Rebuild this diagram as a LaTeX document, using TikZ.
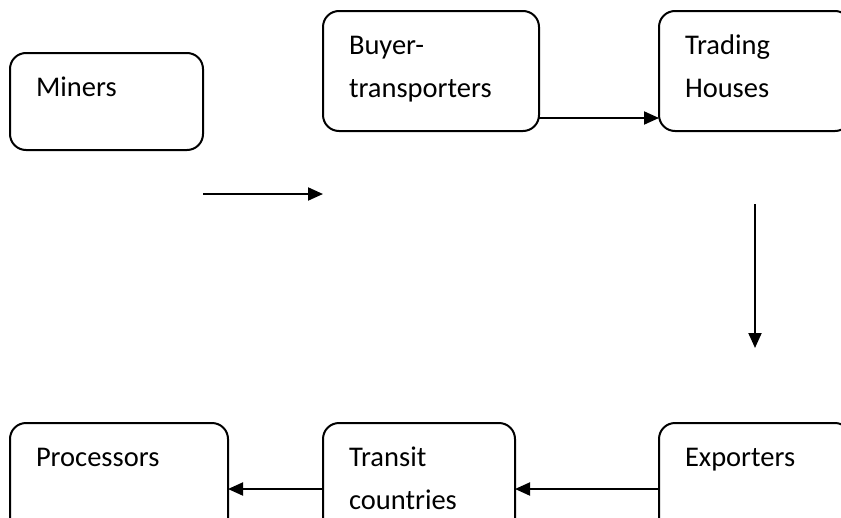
\documentclass[tikz,border=0pt]{standalone}
\usepackage{fontspec}
\setmainfont{Carlito}
\usetikzlibrary{arrows.meta, positioning, calc}

% text of a box, held at the top
\newcommand{\stagetext}[3]{\parbox[t][#2][t]{#1}{\raggedright\rule{0pt}{43pt}#3}}

\begin{document}
\begin{tikzpicture}[x=1pt, y=-1pt,
    every node/.style={font=\fontsize{28.5}{43}\selectfont},
    stage/.style={draw, line width=2pt, rounded corners=16pt, anchor=north west, inner xsep=26pt, inner ysep=0pt, outer sep=0pt},
    flow/.style={-{Triangle[length=15pt, width=13pt]}, line width=2pt}]
            \useasboundingbox (0,0) rectangle (841,517);
            \clip (0,0) rectangle (841,517);
            \node[stage] (miners) at (10,53) {\stagetext{141pt}{97pt}{Miners}};
            \node[stage] (buyer) at (323,11) {\stagetext{164pt}{120pt}{Buyer-\\transporters}};
            \node[stage] (trading) at (659,11) {\stagetext{140pt}{120pt}{Trading\\Houses}};
            \node[stage] (processors) at (10,423) {\stagetext{166pt}{120pt}{Processors}};
            \node[stage] (transit) at (323,423) {\stagetext{140pt}{120pt}{Transit\\countries}};
            \node[stage] (exporters) at (659,423) {\stagetext{140pt}{120pt}{Exporters}};
            \coordinate (m1) at ([yshift=-44pt]miners.south east);
            \coordinate (m2) at (m1 -| buyer.west);
            \draw[flow] (m1) -- (m2);
            \draw[flow] ([yshift=13pt]buyer.south east) -- ([yshift=13pt]trading.south west);
            \coordinate (t1) at ([yshift=-73pt]trading.south);
            \coordinate (t2) at ([yshift=75pt]exporters.north);
            \draw[flow] (t1) -- (t2);
            \draw[flow] ([yshift=-66pt]exporters.north west) -- ([yshift=-66pt]transit.north east);
            \draw[flow] ([yshift=-66pt]transit.north west) -- ([yshift=-66pt]processors.north east);
        \end{tikzpicture}
\end{document}
